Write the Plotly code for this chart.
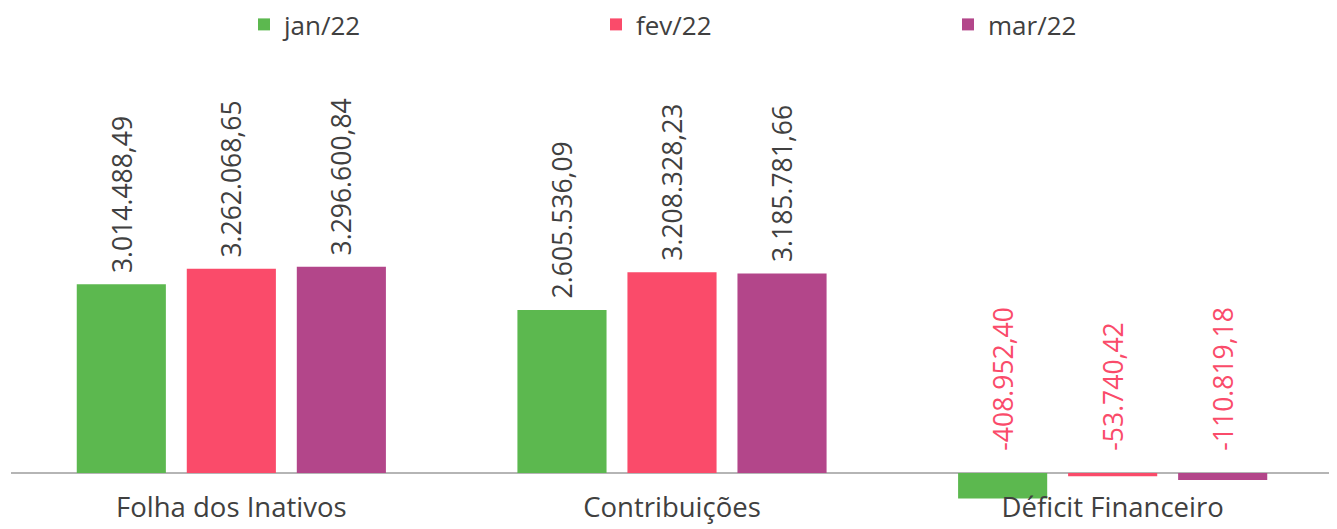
import plotly.graph_objects as go

categories = ["Folha dos Inativos", "Contribuições", "Déficit Financeiro"]
series_names = ["jan/22", "fev/22", "mar/22"]
jan_values = [3014488.49, 2605536.09, -408952.40]
fev_values = [3262068.65, 3208328.23, -53740.42]
mar_values = [3296600.84, 3185781.66, -110819.18]
value_labels = {
    "jan/22": ["3.014.488,49", "2.605.536,09", "-408.952,40"],
    "fev/22": ["3.262.068,65", "3.208.328,23", "-53.740,42"],
    "mar/22": ["3.296.600,84", "3.185.781,66", "-110.819,18"],
}
colors = ["#5cb84f", "#fa4b6a", "#b3468a"]

FONT = "Open Sans"
series_values = [jan_values, fev_values, mar_values]

# page is offset by the default 8px body margin
W, H = 1329, 521

fig = go.Figure()
for name, vals, col in zip(series_names, series_values, colors):
    fig.add_trace(go.Bar(x=categories, y=vals, name=name,
                         marker=dict(color=col, line=dict(width=0))))

slot = 110
annotations = []
for i, (name, vals) in enumerate(zip(series_names, series_values)):
    for cat, v, lab in zip(categories, vals, value_labels[name]):
        neg = v < 0
        annotations.append(dict(
            x=cat, y=max(v, 0), xref="x", yref="y",
            text=lab, showarrow=False, textangle=-90,
            xanchor="center", yanchor="bottom",
            xshift=(i - 1) * slot, yshift=20 if neg else 9,
            font=dict(family=FONT, size=26.5, color="#fa4b6a" if neg else "#404040"),
        ))

top = 52
bottom = 19
plot_h = H - top - bottom
zero_px = 465
px_per_unit = 62.6 / 1e6
y_max = (zero_px - top) / px_per_unit
y_min = -(H - bottom - zero_px) / px_per_unit

fig.update_layout(
    width=W, height=H,
    margin=dict(l=3, r=4, t=top, b=bottom, autoexpand=False),
    paper_bgcolor="white", plot_bgcolor="white",
    barmode="group", bargap=0.251, bargroupgap=0.19,
    font=dict(family=FONT, color="#404040"),
    showlegend=True,
    legend=dict(orientation="h", xref="container", x=236 / W, xanchor="left",
                yref="paper", y=1 + (top + 7) / plot_h, yanchor="top",
                entrywidth=307, entrywidthmode="pixels",
                font=dict(family=FONT, size=26, color="#404040"),
                itemwidth=30, traceorder="normal"),
    xaxis=dict(showgrid=False, showline=False, zeroline=False,
               anchor="free", position=(H - bottom - zero_px) / plot_h,
               ticks="outside", ticklen=10, tickcolor="rgba(0,0,0,0)",
               tickfont=dict(family=FONT, size=27.5, color="#404040")),
    yaxis=dict(range=[y_min, y_max], showgrid=False, showticklabels=False,
               zeroline=True, zerolinecolor="#b5b5b5", zerolinewidth=1.5,
               showline=False),
    annotations=annotations,
)
fig.write_html("out.html")
